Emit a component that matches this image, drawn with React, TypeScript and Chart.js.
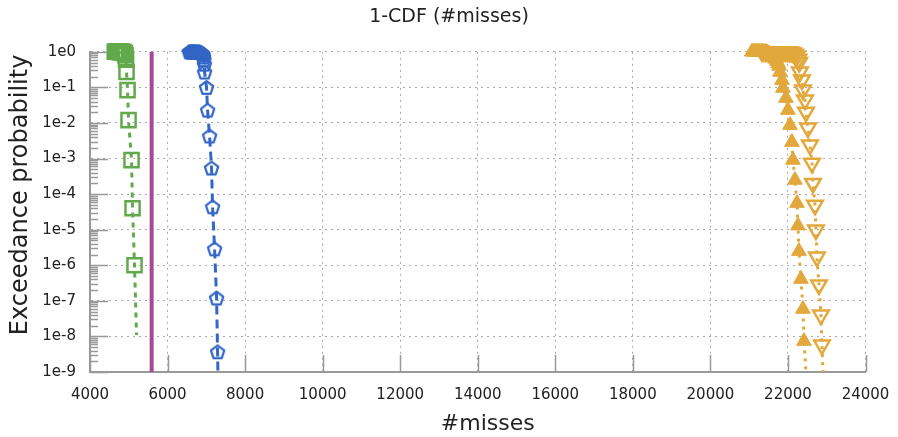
import React, { useEffect, useRef } from "react";
import { Chart, registerables } from "chart.js";

Chart.register(...registerables);

// ---------- data ----------
const xTickValues = [4000, 6000, 8000, 10000, 12000, 14000, 16000, 18000, 20000, 22000, 24000];
const yTickValues = [1e-9, 1e-8, 1e-7, 1e-6, 1e-5, 1e-4, 1e-3, 1e-2, 1e-1, 1];

const greenX = [4640, 4660, 4680, 4700, 4720, 4740, 4760, 4780, 4800, 4820, 4840, 4860, 4880, 4900, 4915, 4930, 4942, 4968, 4994, 5071, 5097, 5148, 5200];
const greenP = [1, 1, 1, 1, 1, 0.999, 0.999, 0.998, 0.997, 0.995, 0.99, 0.98, 0.95, 0.9, 0.8, 0.6, 0.27, 0.084, 0.012, 9e-4, 4e-5, 1e-6, 1.1e-8];

const blueX = [6560, 6580, 6600, 6620, 6640, 6660, 6680, 6700, 6720, 6740, 6760, 6780, 6800, 6820, 6840, 6860, 6880, 6900, 6915, 6930, 6940, 6950, 6955, 7006, 7032, 7084, 7135, 7161, 7213, 7265, 7290, 7300];
const blueP = [1, 1, 1, 1, 1, 1, 0.999, 0.999, 0.998, 0.997, 0.995, 0.993, 0.99, 0.98, 0.97, 0.95, 0.92, 0.88, 0.82, 0.72, 0.6, 0.45, 0.27, 0.1, 0.023, 4.3e-3, 5.4e-4, 4.4e-5, 2.9e-6, 1.2e-7, 3.7e-9, 8e-10];

const orangeFilledX = [21070, 21110, 21150, 21190, 21230, 21270, 21310, 21350, 21390, 21430, 21470, 21510, 21550, 21600, 21640, 21680, 21716, 21745, 21768, 21794, 21845, 21871, 21948, 22000, 22052, 22103, 22129, 22181, 22232, 22258, 22284, 22335, 22387, 22413, 22465];
const orangeFilledP = [1, 1, 1, 1, 1, 1, 0.999, 0.998, 0.99, 0.98, 0.95, 0.9, 0.84, 0.78, 0.71, 0.63, 0.55, 0.47, 0.4, 0.27, 0.16, 0.096, 0.05, 0.023, 8.7e-3, 2.9e-3, 9.1e-4, 2.5e-4, 5.6e-5, 1.3e-5, 2.5e-6, 4.1e-7, 5.9e-8, 7.4e-9, 1e-9];

const orangeHollowX = [21330, 21380, 21430, 21480, 21530, 21580, 21630, 21680, 21730, 21780, 21830, 21880, 21930, 21980, 22030, 22080, 22130, 22180, 22232, 22270, 22290, 22310, 22361, 22387, 22439, 22465, 22516, 22568, 22619, 22645, 22697, 22723, 22748, 22800, 22852, 22877, 22903];
const orangeHollowP = [1, 1, 1, 1, 1, 1, 1, 1, 1, 0.999, 0.999, 0.998, 0.997, 0.995, 0.99, 0.97, 0.93, 0.86, 0.76, 0.62, 0.5, 0.27, 0.16, 0.084, 0.044, 0.02, 7.2e-3, 2.4e-3, 7.4e-4, 2.0e-4, 4.9e-5, 9.8e-6, 1.7e-6, 2.8e-7, 4e-8, 5.7e-9, 1e-9];

const limitX = [5590, 5590];
const limitP = [1, 1e-9];

const titleText = "1-CDF (#misses)";
const xTitle = "#misses";
const yTitle = "Exceedance probability";

// ---------- styles ----------
const GREEN = "#62a94c";
const BLUE = "#3366c6";
const ORANGE = "#e2a83c";
const PURPLE = "#a8469c";
const FONT = "DejaVu Sans";
const TEXT = "#222";
const CLIP = { left: 12, top: 12, right: 12, bottom: 0 };

const toPoints = (xs: number[], ys: number[]) => xs.map((x, i) => ({ x, y: ys[i] }));

function makePentagon(color: string, r: number, lw: number) {
  const size = Math.ceil(2 * r + lw * 2 + 2);
  const c = document.createElement("canvas");
  c.width = size;
  c.height = size;
  const g = c.getContext("2d")!;
  g.strokeStyle = color;
  g.lineWidth = lw;
  g.lineJoin = "round";
  g.beginPath();
  for (let i = 0; i < 5; i++) {
    const a = -Math.PI / 2 + (i * 2 * Math.PI) / 5;
    const px = size / 2 + r * Math.cos(a);
    const py = size / 2 + r * Math.sin(a) + r * 0.1;
    if (i === 0) g.moveTo(px, py);
    else g.lineTo(px, py);
  }
  g.closePath();
  g.stroke();
  return c;
}

const tickPlugin = {
  id: "gnuTicks",
  beforeDatasetsDraw(chart: any) {
    const { ctx, chartArea } = chart;
    const xs = chart.scales.x;
    const ys = chart.scales.y;
    ctx.save();
    ctx.strokeStyle = "#999";
    ctx.lineWidth = 1.5;
    ctx.beginPath();
    for (const v of yTickValues) {
      const py = Math.round(ys.getPixelForValue(v)) + 0.5;
      ctx.moveTo(chartArea.left, py);
      ctx.lineTo(chartArea.left + 18, py);
      if (v < 1) {
        for (let k = 2; k <= 9; k++) {
          const my = Math.round(ys.getPixelForValue(v * k)) + 0.5;
          ctx.moveTo(chartArea.left, my);
          ctx.lineTo(chartArea.left + 8, my);
        }
      }
    }
    for (const v of xTickValues) {
      const px = Math.round(xs.getPixelForValue(v)) + 0.5;
      ctx.moveTo(px, chartArea.bottom);
      ctx.lineTo(px, chartArea.bottom - 17);
    }
    ctx.stroke();
    ctx.restore();
  },
  afterDraw(chart: any) {
    const { ctx, chartArea } = chart;
    ctx.save();
    ctx.fillStyle = TEXT;
    ctx.font = `22px "${FONT}"`;
    ctx.textAlign = "center";
    ctx.textBaseline = "alphabetic";
    ctx.fillText(xTitle, (chartArea.left + chartArea.right) / 2 + 10, 430);
    ctx.translate(21, (chartArea.top + chartArea.bottom) / 2 - 17);
    ctx.rotate(-Math.PI / 2);
    ctx.font = `24px "${FONT}"`;
    ctx.textBaseline = "middle";
    ctx.fillText(yTitle, 0, 0);
    ctx.restore();
  },
};

export default function App() {
  const ref = useRef<HTMLCanvasElement | null>(null);

  useEffect(() => {
    document.body.style.margin = "0";
    const canvas = ref.current!;
    const pentagon = makePentagon(BLUE, 7, 2.2);
    const noTail = (n: number, r: number) => (c: any) => (c.dataIndex === n - 1 ? 0 : r);

    const chart = new Chart(canvas, {
      type: "line",
      data: {
        datasets: [
          {
            data: toPoints(limitX, limitP),
            borderColor: PURPLE,
            borderWidth: 4,
            pointRadius: 0,
            clip: CLIP,
          },
          {
            data: toPoints(greenX, greenP),
            borderColor: GREEN,
            borderWidth: 3,
            borderDash: [5, 5],
            pointStyle: "rect",
            pointRadius: noTail(greenX.length, 10),
            pointBorderColor: GREEN,
            pointBackgroundColor: "rgba(0,0,0,0)",
            pointBorderWidth: 2.5,
            clip: CLIP,
          },
          {
            data: toPoints(blueX, blueP),
            borderColor: BLUE,
            borderWidth: 3,
            borderDash: [9, 5],
            pointStyle: pentagon,
            pointRadius: noTail(blueX.length, 7),
            clip: CLIP,
          },
          {
            data: toPoints(orangeFilledX, orangeFilledP),
            borderColor: ORANGE,
            borderWidth: 3,
            borderDash: [3, 5],
            pointStyle: "triangle",
            pointRadius: noTail(orangeFilledX.length, 8.5),
            pointBorderColor: ORANGE,
            pointBackgroundColor: ORANGE,
            pointBorderWidth: 1,
            clip: CLIP,
          },
          {
            data: toPoints(orangeHollowX, orangeHollowP),
            borderColor: ORANGE,
            borderWidth: 3,
            borderDash: [3, 5],
            pointStyle: "triangle",
            pointRotation: 180,
            pointRadius: noTail(orangeHollowX.length, 9),
            pointBorderColor: ORANGE,
            pointBackgroundColor: "rgba(0,0,0,0)",
            pointBorderWidth: 2.5,
            clip: CLIP,
          },
        ] as any,
      },
      options: {
        animation: false,
        responsive: false,
        devicePixelRatio: 1,
        events: [],
        layout: { padding: 0 },
        elements: { line: { tension: 0 } },
        plugins: {
          legend: { display: false },
          tooltip: { enabled: false },
          title: {
            display: true,
            text: titleText,
            color: TEXT,
            font: { family: FONT, size: 19, weight: "normal" },
            padding: { top: 6, bottom: 23 },
          },
        },
        scales: {
          x: {
            type: "linear",
            min: 4000,
            max: 24000,
            afterBuildTicks: (s: any) => {
              s.ticks = xTickValues.map((v) => ({ value: v }));
            },
            afterFit: (s: any) => {
              s.height = 65;
              s.paddingLeft = 0;
              s.paddingRight = 32.5;
            },
            ticks: {
              autoSkip: false,
              maxRotation: 0,
              padding: 14,
              color: TEXT,
              font: { family: FONT, size: 15 },
              callback: (v: any) => String(v),
            },
            grid: { color: "#aaa", lineWidth: 1, drawTicks: false },
            border: { display: true, color: "#999", width: 2, dash: [2, 4] },
          },
          y: {
            type: "logarithmic",
            min: 1e-9,
            max: 1,
            afterBuildTicks: (s: any) => {
              s.ticks = yTickValues.map((v) => ({ value: v }));
            },
            afterFit: (s: any) => {
              s.width = 90;
              s.paddingTop = 0;
              s.paddingBottom = 0;
            },
            ticks: {
              autoSkip: false,
              padding: 14,
              color: TEXT,
              font: { family: FONT, size: 15 },
              callback: (v: any) => "1e" + Math.round(Math.log10(Number(v))),
            },
            grid: { color: "#aaa", lineWidth: 1, drawTicks: false },
            border: { display: true, color: "#999", width: 2, dash: [2, 4] },
          },
        },
      } as any,
      plugins: [tickPlugin],
    });
    return () => chart.destroy();
  }, []);

  return (
    <div style={{ position: "absolute", left: 0, top: 0, width: 898, height: 437 }}>
      <canvas ref={ref} width={898} height={437} style={{ width: 898, height: 437 }} />
    </div>
  );
}
